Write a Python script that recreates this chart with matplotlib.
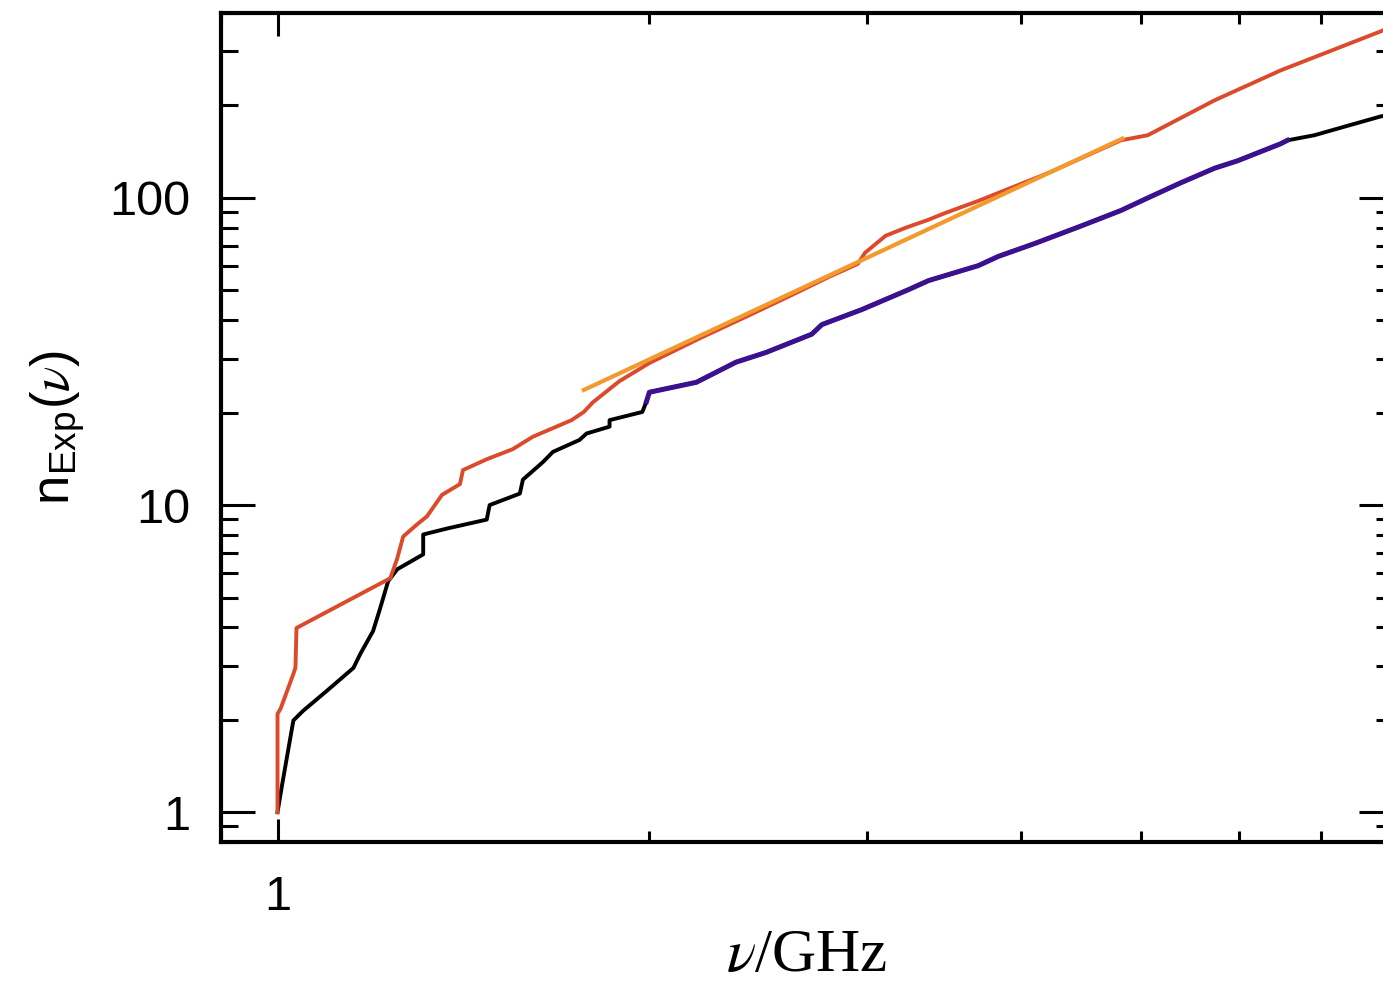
import matplotlib
matplotlib.use("Agg")
import matplotlib.pyplot as plt
import numpy as np
from matplotlib.ticker import LogLocator, NullFormatter, FixedLocator, FixedFormatter

plt.rcParams["font.family"] = ["Liberation Sans", "DejaVu Sans"]
plt.rcParams["mathtext.fontset"] = "stix"

# cumulative counts n(nu)
red_x = [1.0, 1.0, 1.006, 1.030, 1.034, 1.036, 1.234, 1.25, 1.264, 1.297, 1.321,
         1.359, 1.405, 1.413, 1.477, 1.55, 1.61, 1.73, 1.77, 1.80, 1.891, 2.0,
         2.2, 2.4, 2.6, 2.8, 2.95, 2.99, 3.107, 3.226, 3.365, 3.474, 3.693,
         3.833, 4.206, 4.817, 5.065, 5.738, 6.486, 7.81, 8.0]
red_y = [1.0, 2.09, 2.18, 2.82, 2.96, 3.98, 5.78, 6.7, 7.9, 8.65, 9.18,
         10.8, 11.7, 13.0, 14.1, 15.2, 16.7, 18.9, 20.1, 21.6, 25.3, 29.0,
         35.0, 41.2, 48.0, 55.5, 61.0, 66.3, 75.3, 80.0, 84.9, 89.4, 97.8,
         103.8, 120.5, 154, 160, 208, 260, 348, 362]

black_x = [1.0, 1.009, 1.030, 1.049, 1.097, 1.152, 1.167, 1.195, 1.211, 1.229,
           1.250, 1.312, 1.312, 1.372, 1.477, 1.485, 1.571, 1.580, 1.640, 1.671,
           1.756, 1.779, 1.857, 1.857, 1.974, 1.989, 2.0, 2.183, 2.351, 2.486,
           2.707, 2.759, 2.972, 3.243, 3.365, 3.693, 3.833, 4.1, 4.472, 4.817,
           5.065, 5.386, 5.738, 5.985, 6.486, 6.57, 6.91, 7.21, 7.81, 8.0]
black_y = [1.0, 1.24, 1.99, 2.14, 2.49, 2.95, 3.28, 3.89, 4.62, 5.65,
           6.18, 6.91, 8.02, 8.39, 8.97, 10.0, 10.9, 12.1, 13.8, 14.9,
           16.3, 17.1, 18.0, 18.9, 20.1, 21.7, 23.3, 25.1, 29.2, 31.4,
           36.0, 38.7, 43.3, 50.3, 53.8, 60.2, 64.5, 71.0, 81.0, 91.0,
           100, 112, 125, 132, 150, 154, 160, 168, 184, 188]

# power-law fit to the red curve (straight on log-log)
orange_x = [1.77, 4.83]
orange_y = [23.7, 156]

# part of the black curve that is highlighted
purple_range = (1.985, 6.6)

black_x = np.array(black_x)
black_y = np.array(black_y)
sel = (black_x >= purple_range[0]) & (black_x <= purple_range[1])

fig = plt.figure(figsize=(13.83, 9.97), dpi=100)
# right spine sits just past the image edge, as in the original
ax = fig.add_axes([221 / 1383, 1 - 842 / 997, 1172 / 1383, 829 / 997])

ax.plot(black_x, black_y, color="black", lw=2.8, zorder=2)
ax.plot(red_x, red_y, color="#dc4a2c", lw=2.8, zorder=3)
ax.plot(black_x[sel], black_y[sel], color="#3b1190", lw=3.6, zorder=4)
ax.plot(orange_x, orange_y, color="#f29a2e", lw=3.0, zorder=5)

ax.set_xscale("log")
ax.set_yscale("log")
ax.set_xlim(0.9, 8.0)
ax.set_ylim(0.8, 400)

ax.xaxis.set_major_locator(FixedLocator([1]))
ax.xaxis.set_major_formatter(FixedFormatter(["1"]))
ax.xaxis.set_minor_locator(LogLocator(base=10, subs=np.arange(2, 10)))
ax.xaxis.set_minor_formatter(NullFormatter())
ax.yaxis.set_major_locator(FixedLocator([1, 10, 100]))
ax.yaxis.set_major_formatter(FixedFormatter(["1", "10", "100"]))
ax.yaxis.set_minor_locator(LogLocator(base=10, subs=np.arange(2, 10), numticks=20))
ax.yaxis.set_minor_formatter(NullFormatter())

ax.tick_params(axis="both", which="both", direction="in", top=True, right=True,
               width=2.2, color="black", labelsize=35)
ax.tick_params(axis="x", which="major", length=16.5, pad=24)
ax.tick_params(axis="x", which="minor", length=8)
ax.tick_params(axis="y", which="major", length=24.5, pad=22)
ax.tick_params(axis="y", which="minor", length=12)
for sp in ax.spines.values():
    sp.set_linewidth(3)

ax.set_xlabel(r"$\nu$/GHz", fontsize=44, family="Liberation Serif", labelpad=6)
ax.set_ylabel(r"n$_{\mathregular{Exp}}$($\nu$)", fontsize=38, labelpad=16)

fig.savefig("out.png", dpi=100)
